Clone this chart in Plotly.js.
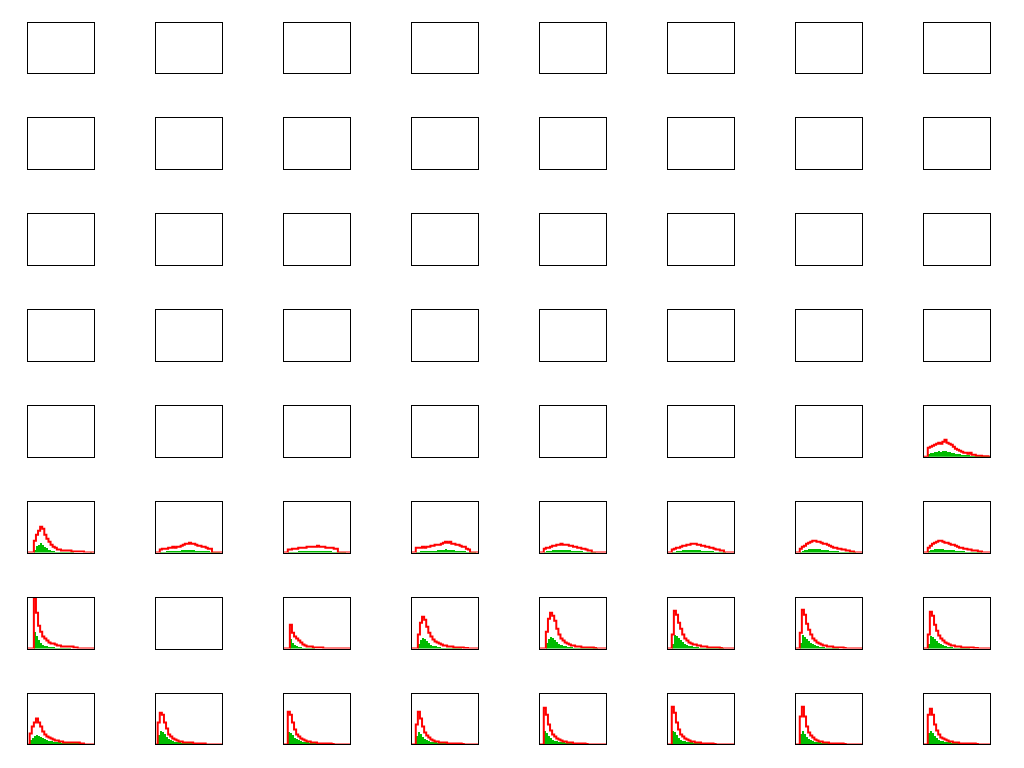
<!DOCTYPE html>
<html><head><meta charset="utf-8">
<script src="https://cdn.plot.ly/plotly-3.0.1.min.js"></script>
<style>html,body{margin:0;padding:0;background:#fff}#chart{width:1024px;height:768px}</style>
</head><body><div id="chart"></div>
<script>
// bin counts per panel (32 bins), red = total outline, green = filled subset
const red_r5c8 = [0,0,9,10,11,12,13,14,13,15,17,14,13,12,10,8,7,6,5,4,4,3,4,2,2,1,1,1,0.5,0.5,0.5,0];
const green_r5c8 = [0,0,3,4,4,5,5,6,5,6,6,5,5,4,4,3,3,3,2,2,2,2,1,1,1,1,1,1,1,1,0.5,0.5];

const red_r6c1 = [0,0,0,12,18,22,26,24,18,14,11,8,6,5,3,3,2,2,2,2,2,1,1,1,1,1,1,0,0,0,0,0];
const green_r6c1 = [0,0,0,3,7,8,10,8,6,5,3,2,2,1,1,1,1,1,0.5,0.5,0.5,0.5,0,0,0,0,0,0,0,0,0.5,0];
const red_r6c2 = [0,0,3,4,4,4,5,5,6,5,6,6,7,8,9,9,10,9,9,8,7,7,6,6,5,4,4,0,0,0,0,0];
const green_r6c2 = [0,0,1,1,1,2,2,2,2,2,2,2,3,3,3,3,3,3,3,2,2,2,2,2,2,2,1,1,1,1,0.5,0];
const red_r6c3 = [0,0,3,3,4,4,4,5,5,5,5,6,6,6,6,6,7,6,6,6,5,5,5,5,4,4,0,0,0,0,0,0];
const green_r6c3 = [0,0,1,1,1,1,1,2,2,2,2,2,2,2,2,2,2,2,2,2,2,2,2,1,1,1,1,1,1,0.5,0,0];
const red_r6c4 = [0,0,5,5,5,6,5,6,6,7,7,8,8,8,9,10,11,10,11,9,9,8,8,7,6,6,4,3,0,0,0,0];
const green_r6c4 = [0,0,1,1,2,2,2,2,2,2,2,2,3,3,3,3,4,3,3,3,3,2,2,2,2,2,1,1,1,1,0.5,0];
const red_r6c5 = [0,0,4,5,5,6,7,7,8,8,9,8,8,8,7,7,6,6,5,5,4,4,3,2,2,0,0,0,0,0,0,0];
const green_r6c5 = [0,0,1,2,2,2,3,3,3,3,3,3,3,3,3,2,2,2,2,2,2,1,1,1,1,1,0.5,0,0,0,0,0];
const red_r6c6 = [0,0,3,4,5,5,6,7,7,8,8,9,9,9,8,8,7,7,6,6,5,5,4,3,3,2,2,0,0,0,0,0];
const green_r6c6 = [0,0,1,1,2,2,2,3,3,3,3,3,3,3,3,3,2,2,2,2,2,2,1,1,1,1,1,0.5,0,0,0,0];
const red_r6c7 = [0,0,4,6,7,9,10,11,12,12,11,11,10,9,9,8,7,6,5,5,4,4,3,3,2,2,1,1,0,0,0,0];
const green_r6c7 = [0,0,1,2,3,3,4,4,4,4,4,4,3,3,3,3,2,2,2,2,2,1,1,1,1,1,1,0.5,0.5,0,0,0];
const red_r6c8 = [0,0,5,7,9,10,11,12,12,11,10,10,9,8,8,7,6,5,5,4,4,3,3,2,2,2,1,1,0,0,0,0];
const green_r6c8 = [0,0,2,3,3,4,4,4,4,4,3,3,3,3,3,2,2,2,2,2,1,1,1,1,1,1,0.5,0.5,0,0,0,0];

const red_r7c1 = [0,0,0,51,36,23,17,12,10,8,6,5,5,4,3,3,2,2,2,2,2,2,1,1,0,0,0,0,0,0,0,0];
const green_r7c1 = [0,0,0,17,13,9,6,4,3,3,2,2,2,1,1,1,1,1,1,1,1,0,0,0,0,0,0,0,0,0,0,0];
const red_r7c3 = [0,0,0,24,16,12,10,8,6,4,3,2,2,2,1,1,1,1,1,0,0,0,0,0,0,0,0,0,0,0,0,0];
const green_r7c3 = [0,0,0,10,6,4,3,2,2,1,1,1,1,1,0.5,0,0,0,0,0,0,0,0,0,0,0,0,0,0,0,0,0];
const red_r7c4 = [0,0,0,14,26,32,29,22,16,12,9,7,6,5,4,3,3,2,2,2,1,1,1,1,1,0.5,0.5,0,0,0,0,0];
const green_r7c4 = [0,0,0,5,9,11,10,8,6,4,3,3,2,2,1,1,1,1,1,1,1,0.5,0.5,0.5,0,0,0,0,0,0,0,0];
const red_r7c5 = [0,0,0,17,30,36,33,28,20,14,10,8,6,5,4,3,3,2,2,2,1,1,1,1,1,1,0.5,0,0,0,0,0];
const green_r7c5 = [0,0,0,6,10,12,11,9,7,5,4,3,3,2,2,2,1,1,1,1,1,1,1,0.5,0.5,0.5,0.5,0.5,0,0,0,0];
const red_r7c6 = [0,0,14,38,34,26,20,14,10,8,6,5,4,4,3,3,2,2,2,1,1,1,1,1,1,0.5,0,0,0,0,0,0];
const green_r7c6 = [0,0,5,14,13,11,9,7,5,4,3,3,2,2,2,1,1,1,1,1,1,1,0.5,0.5,0.5,0.5,0.5,0,0,0,0,0];
const red_r7c7 = [0,0,16,39,34,25,19,14,10,8,6,5,4,3,3,2,2,2,1,1,1,1,1,0.5,0,0,0,0,0,0,0,0];
const green_r7c7 = [0,0,6,14,12,10,8,6,5,4,3,2,2,2,1,1,1,1,1,1,0.5,0,0,0,0,0,0,0,0,0,0,0];
const red_r7c8 = [0,0,14,37,33,24,18,13,10,8,6,5,4,3,3,2,2,2,1,1,1,1,1,1,0.5,0.5,0,0,0,0,0,0];
const green_r7c8 = [0,0,5,13,12,10,8,6,5,4,3,2,2,2,1,1,1,1,1,1,0.5,0.5,0,0,0,0,0,0,0,0,0,0];

const red_r8c1 = [0,11,18,22,26,22,18,13,10,8,7,6,5,4,4,3,3,2,2,2,2,2,2,2,2,1,1,0,0,0,0,0];
const green_r8c1 = [0,4,6,8,9,8,7,6,5,4,3,3,2,2,2,2,1,1,1,1,1,1,1,1,1,1,1,0.5,0.5,0.5,0,0];
const red_r8c2 = [0,22,32,30,22,16,10,8,6,5,4,3,3,2,2,2,2,2,1,1,1,1,1,1,0,0,0,0,0,0,0,0];
const green_r8c2 = [0,9,13,12,10,7,5,4,3,2,2,2,1,1,1,1,1,1,1,1,1,1,1,0.5,0,0,0,0,0,0,0,0];
const red_r8c3 = [0,0,33,30,22,15,10,8,6,5,4,3,3,2,2,2,1,1,1,1,1,1,1,0.5,0,0,0,0,0,0,0,0];
const green_r8c3 = [0,0,12,11,9,6,5,4,3,2,2,2,1,1,1,1,1,1,1,0.5,0.5,0,0,0,0,0,0,0,0,0,0,0];
const red_r8c4 = [0,0,20,33,26,18,12,9,7,5,4,3,3,2,2,2,2,1,1,1,1,1,1,1,0.5,0,0,0,0,0,0,0];
const green_r8c4 = [0,0,8,12,10,7,5,4,3,2,2,2,1,1,1,1,1,1,1,1,0.5,0.5,0,0,0,0,0,0,0,0,0,0];
const red_r8c5 = [0,0,37,30,20,14,10,8,6,5,4,3,3,2,2,2,1,1,1,1,1,1,0.5,0,0,0,0,0,0,0,0,0];
const green_r8c5 = [0,0,13,11,8,6,4,3,3,2,2,2,1,1,1,1,1,1,0.5,0.5,0,0,0,0,0,0,0,0,0,0,0,0];
const red_r8c6 = [0,0,38,32,22,15,10,8,6,5,4,3,3,2,2,2,1,1,1,1,1,1,0.5,0,0,0,0,0,0,0,0,0];
const green_r8c6 = [0,0,14,12,9,6,4,3,3,2,2,2,1,1,1,1,1,1,1,0.5,0.5,0,0,0,0,0,0,0,0,0,0,0];
const red_r8c7 = [0,0,28,38,28,18,12,9,7,5,4,3,3,2,2,2,1,1,1,1,1,1,1,0.5,0,0,0,0,0,0,0,0];
const green_r8c7 = [0,0,10,13,10,7,5,4,3,2,2,2,1,1,1,1,1,1,1,0.5,0,0,0,0,0,0,0,0,0,0,0,0];
const red_r8c8 = [0,0,30,36,30,20,14,10,7,6,5,4,3,3,2,2,2,1,1,1,1,1,1,1,1,0.5,0,0,0,0,0,0];
const green_r8c8 = [0,0,11,13,11,8,6,4,3,3,2,2,2,1,1,1,1,1,1,1,0.5,0.5,0.5,0,0,0,0,0,0,0,0,0];

const panelData = {
  "5,8": [red_r5c8, green_r5c8],
  "6,1": [red_r6c1, green_r6c1], "6,2": [red_r6c2, green_r6c2], "6,3": [red_r6c3, green_r6c3],
  "6,4": [red_r6c4, green_r6c4], "6,5": [red_r6c5, green_r6c5], "6,6": [red_r6c6, green_r6c6],
  "6,7": [red_r6c7, green_r6c7], "6,8": [red_r6c8, green_r6c8],
  "7,1": [red_r7c1, green_r7c1], "7,3": [red_r7c3, green_r7c3], "7,4": [red_r7c4, green_r7c4],
  "7,5": [red_r7c5, green_r7c5], "7,6": [red_r7c6, green_r7c6], "7,7": [red_r7c7, green_r7c7],
  "7,8": [red_r7c8, green_r7c8],
  "8,1": [red_r8c1, green_r8c1], "8,2": [red_r8c2, green_r8c2], "8,3": [red_r8c3, green_r8c3],
  "8,4": [red_r8c4, green_r8c4], "8,5": [red_r8c5, green_r8c5], "8,6": [red_r8c6, green_r8c6],
  "8,7": [red_r8c7, green_r8c7], "8,8": [red_r8c8, green_r8c8]
};

const W = 1024, H = 768;
const traces = [];
const layout = {
  width: W, height: H, margin: {l: 0, r: 0, t: 0, b: 0},
  paper_bgcolor: '#fff', plot_bgcolor: '#fff', showlegend: false,
  bargap: 0, barmode: 'overlay'
};
const NB = 32;
for (let r = 1; r <= 8; r++) {
  for (let c = 1; c <= 8; c++) {
    const k = (r - 1) * 8 + c;
    const xs = k === 1 ? 'x' : 'x' + k, ys = k === 1 ? 'y' : 'y' + k;
    const xk = k === 1 ? 'xaxis' : 'xaxis' + k, yk = k === 1 ? 'yaxis' : 'yaxis' + k;
    const x0 = 27.6 + 128 * (c - 1), x1 = x0 + 66.8;
    const yTop = 22.5 + 95.9 * (r - 1), yBot = yTop + 50.6;
    const ax = {showline: true, mirror: true, linecolor: '#000', linewidth: 1,
      showgrid: false, zeroline: false, ticks: '', showticklabels: false, fixedrange: true};
    layout[xk] = Object.assign({}, ax, {domain: [x0 / W, x1 / W], range: [0, NB], anchor: ys});
    layout[yk] = Object.assign({}, ax, {domain: [1 - yBot / H, 1 - yTop / H], range: [0, 51], anchor: xs});
    const d = panelData[r + ',' + c];
    if (d) {
      const [rv, gv] = d;
      traces.push({type: 'bar', x: gv.map((_, i) => i + 0.5), y: gv, width: 1,
        marker: {color: '#00bb00', line: {width: 0}}, xaxis: xs, yaxis: ys, hoverinfo: 'skip'});
      traces.push({type: 'scatter', mode: 'lines', x: rv.map((_, i) => i).concat([rv.length]),
        y: rv.concat([rv[rv.length - 1]]), line: {color: '#ff0000', width: 2, shape: 'hv'},
        xaxis: xs, yaxis: ys, hoverinfo: 'skip', cliponaxis: true});
    } else {
      traces.push({type: 'scatter', mode: 'lines', x: [], y: [], xaxis: xs, yaxis: ys});
    }
  }
}
Plotly.newPlot('chart', traces, layout, {staticPlot: true});
</script>
</body></html>
